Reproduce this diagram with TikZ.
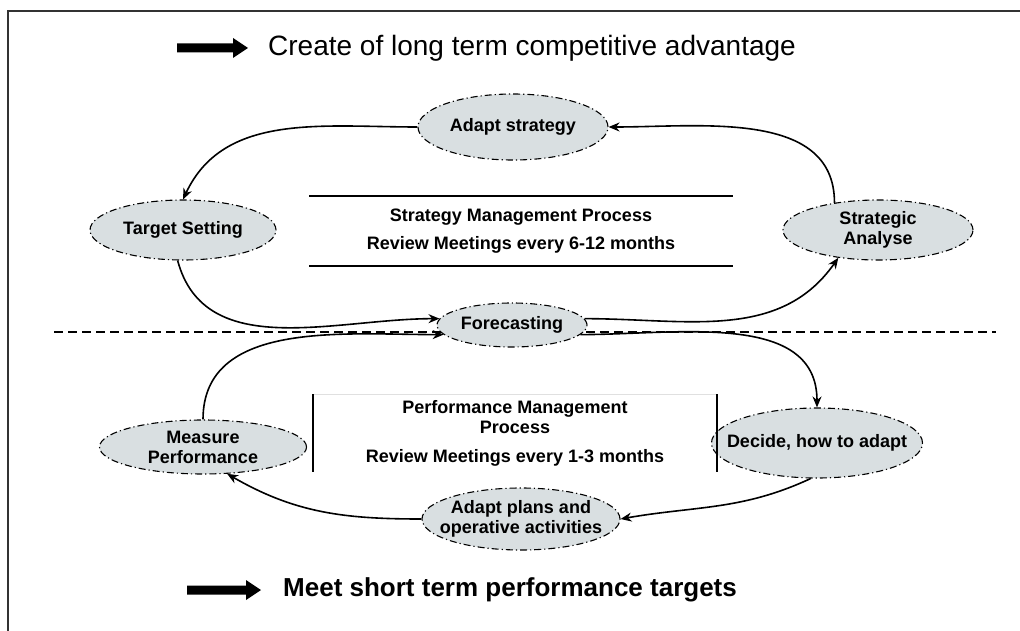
\documentclass[tikz,border=0pt]{standalone}
\usepackage{fontspec}
\setmainfont{Liberation Sans}
\usetikzlibrary{shapes.geometric, arrows.meta}

\definecolor{ovalfill}{RGB}{217,223,225}

% Thick block arrow with its tail at #1, #2 points long
\newcommand{\blockarrow}[2]{%
  \fill #1 ++(0,4.5) -- ++(#2-15,0) -- ++(0,5.5) -- ++(15,-10)
    -- ++(-15,-10) -- ++(0,5.5) -- ++(-#2+15,0) -- cycle;}

\begin{document}
\begin{tikzpicture}[x=1pt, y=1pt, >={Stealth[length=11pt, width=9pt]}]

  % Styles for the process steps, the loop arrows and the headings
  \tikzset{
    phase/.style={
      ellipse, draw, fill=ovalfill, line width=1.1pt, inner sep=0pt,
      dash pattern=on 7pt off 3pt on 1.2pt off 3pt
    },
    phase text/.style={
      align=center, inner sep=0pt,
      font=\fontsize{18}{20}\selectfont\bfseries
    },
    loop arrow/.style={->, line width=1.6pt},
    heading/.style={anchor=west, inner sep=0pt},
    box text/.style={align=center, inner sep=0pt,
      font=\fontsize{18}{20}\selectfont\bfseries}
  }

  \useasboundingbox (0,0) rectangle (1020,-631);

  % Frame: only the top and left edges
  \draw[line width=2pt, black!80] (1020,-11) -- (8,-11) -- (8,-631);

  % Long term heading
  \blockarrow{(177,-48)}{71}
  \node[heading, font=\fontsize{28}{30}\selectfont] (longterm) at (268,-48)
    {Create of long term competitive advantage};

  % Short term heading
  \blockarrow{(187,-590)}{74}
  \node[heading, font=\fontsize{26}{28}\selectfont\bfseries] (shortterm) at (283,-590)
    {Meet short term performance targets};

  % Border between the two loops
  \draw[line width=2pt, dash pattern=on 9pt off 5pt] (54,-332) -- (996,-332);

  % Strategy loop
  \node[phase, minimum width=190pt, minimum height=66pt,
    label={[phase text]center:Adapt strategy}] (adapt) at (513,-127) {};
  \node[phase, minimum width=186pt, minimum height=60pt,
    label={[phase text]center:Target Setting}] (target) at (183,-230) {};
  \node[phase, minimum width=190pt, minimum height=60pt,
    label={[phase text]center:Strategic\\Analyse}] (analyse) at (878,-230) {};
  \node[phase, minimum width=150pt, minimum height=44pt,
    label={[phase text]center:Forecasting}] (forecast) at (512,-325) {};

  \node[box text, minimum width=423pt, minimum height=70pt] (stratbox) at (521,-231)
    {Strategy Management Process\\[8pt]Review Meetings every 6-12 months};
  \draw[line width=1.5pt] (stratbox.north west) -- (stratbox.north east);
  \draw[line width=1.5pt] (stratbox.south west) -- (stratbox.south east);

  \draw[loop arrow] (adapt.west) to[out=180, in=65] (target.north);
  \draw[loop arrow] (target.-100) to[out=-75, in=180] (forecast.175);
  \draw[loop arrow] (forecast.5) to[out=0, in=-125] (analyse.-145);
  \draw[loop arrow] (analyse.148) to[out=90, in=0] (adapt.east);

  % Performance loop
  \node[phase, minimum width=207pt, minimum height=54pt,
    label={[phase text]center:Measure\\Performance}] (measure) at (203,-447) {};
  \node[phase, minimum width=211pt, minimum height=70pt,
    label={[phase text]center:{Decide, how to adapt}}] (decide) at (817,-443) {};
  \node[phase, minimum width=198pt, minimum height=62pt,
    label={[phase text]center:Adapt plans and\\operative activities}] (plans) at (521,-519) {};

  \node[box text, minimum width=404pt, minimum height=77pt] (perfbox) at (515,-433)
    {Performance Management\\Process\\[9pt]Review Meetings every 1-3 months};
  \draw[black!12] (perfbox.north west) -- (perfbox.north east);
  \draw[line width=1.5pt] (perfbox.north west) -- (perfbox.south west);
  \draw[line width=1.5pt] (perfbox.north east) -- (perfbox.south east);

  \draw[loop arrow] (measure.north) to[out=90, in=180] (forecast.188);
  \draw[loop arrow] (forecast.-8) to[out=0, in=90] (decide.north);
  \draw[loop arrow] (decide.260) to[out=-155, in=10] (plans.east);
  \draw[loop arrow] (plans.west) to[out=180, in=-30] (measure.-48);

\end{tikzpicture}
\end{document}
